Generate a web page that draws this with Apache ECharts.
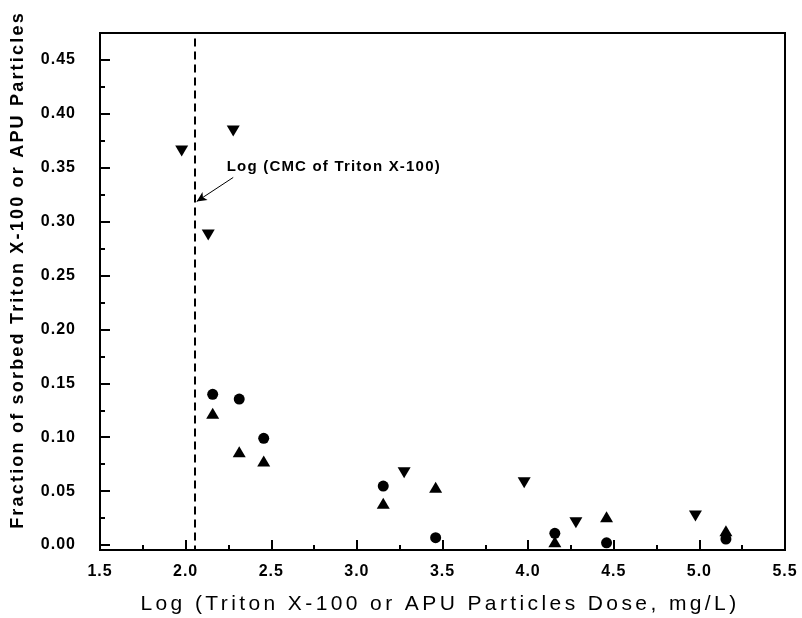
<!DOCTYPE html>
<html>
<head>
    <meta charset="utf-8">
    <title>sorbed fraction vs dose</title>
    <script type="text/javascript" src="https://cdn.jsdelivr.net/npm/echarts@6/dist/echarts.min.js"></script>
    <style>
        html, body { margin: 0; padding: 0; background: #fff; }
    </style>
</head>
<body>
<div id="main" style="width: 802px;height:618px;"></div>
<script type="text/javascript">
    // data: x = log dose, y = fraction sorbed
    var doseTri = [1.977, 2.278, 2.132, 3.276, 3.977, 4.279, 4.977];
    var fracDown = [0.3655, 0.384, 0.2876, 0.0671, 0.0578, 0.0207, 0.0269];

    var doseApu = [2.158, 2.313, 2.456, 3.154, 3.46, 4.156, 4.458, 5.155];
    var fracCircle = [0.1398, 0.1354, 0.099, 0.0547, 0.0068, 0.0109, 0.0021, 0.0056];
    var fracUp = [0.1222, 0.0866, 0.0779, 0.0387, 0.0535, 0.0031, 0.0263, 0.0133];

    var yMajor = [0, 0.05, 0.1, 0.15, 0.2, 0.25, 0.3, 0.35, 0.4, 0.45];
    var yMinor = [0.025, 0.075, 0.125, 0.175, 0.225, 0.275, 0.325, 0.375, 0.425];

    var cmcLog = 2.055;
    var cmcArrow = [[2.278, 0.341], [2.0645, 0.3187]];
    var cmcText = [2.24, 0.3505];

    function pairs(xs, ys) {
        return xs.map(function (x, i) { return [x, ys[i]]; });
    }

    // the original figure uses loosely tracked type; canvas has letterSpacing but zrender never sets it
    var TRACKING = { 15: '1.2px', 16: '1px', 18: '2.2px', 21: '3.4px' };
    var fontProp = Object.getOwnPropertyDescriptor(CanvasRenderingContext2D.prototype, 'font');
    Object.defineProperty(CanvasRenderingContext2D.prototype, 'font', {
        configurable: true,
        get: fontProp.get,
        set: function (v) {
            fontProp.set.call(this, v);
            var m = /(\d+)px/.exec(v);
            if ('letterSpacing' in this) this.letterSpacing = (m && TRACKING[m[1]]) || '0px';
        }
    });

    var FONT = 'Liberation Sans';
    var myChart = echarts.init(document.getElementById('main'));

    var option = {
        backgroundColor: '#fff',
        animation: false,
        textStyle: { fontFamily: FONT },
        grid: {
            left: 100, right: 17, top: 33, bottom: 68,
            show: true, borderColor: '#000', borderWidth: 2
        },
        xAxis: {
            type: 'value',
            min: 1.5, max: 5.5, interval: 0.5,
            axisLine: { show: true, onZero: false, lineStyle: { color: '#000', width: 2 } },
            axisTick: { show: true, inside: true, length: 10, lineStyle: { color: '#000', width: 2 } },
            minorTick: { show: true, splitNumber: 2, length: 5, lineStyle: { color: '#000', width: 2 } },
            splitLine: { show: false },
            axisLabel: {
                margin: 13, color: '#000', fontSize: 16, fontWeight: 'bold', fontFamily: FONT,
                formatter: function (v) { return v.toFixed(1); }
            }
        },
        yAxis: [{
            type: 'value',
            position: 'left',
            min: -0.0046, max: 0.475,
            axisLine: { show: true, onZero: false, lineStyle: { color: '#000', width: 2 } },
            axisTick: { show: true, inside: true, length: 10, customValues: yMajor, lineStyle: { color: '#000', width: 2 } },
            splitLine: { show: false },
            axisLabel: {
                margin: 24, color: '#000', fontSize: 16, fontWeight: 'bold', fontFamily: FONT,
                customValues: yMajor,
                formatter: function (v) { return v.toFixed(2); }
            }
        }, {
            type: 'value',
            position: 'left',
            min: -0.0046, max: 0.475,
            axisLine: { show: false },
            axisTick: { show: true, inside: true, length: 5, customValues: yMinor, lineStyle: { color: '#000', width: 2 } },
            splitLine: { show: false },
            axisLabel: { show: false }
        }],
        graphic: [{
            type: 'text',
            x: 440, y: 604,
            style: {
                text: 'Log (Triton X-100 or APU Particles Dose, mg/L)',
                font: '21px "' + FONT + '"',
                fill: '#000', align: 'center', verticalAlign: 'middle'
            }
        }, {
            type: 'text',
            x: 18, y: 270,
            rotation: Math.PI / 2,
            style: {
                text: 'Fraction of sorbed Triton X-100 or APU Particles',
                font: 'bold 18px "' + FONT + '"',
                fill: '#000', align: 'center', verticalAlign: 'middle'
            }
        }],
        series: [{
            name: 'down',
            type: 'scatter',
            symbol: 'triangle',
            symbolRotate: 180,
            symbolSize: [13, 11],
            itemStyle: { color: '#000', opacity: 1 },
            data: pairs(doseTri, fracDown),
            markLine: {
                silent: true,
                animation: false,
                label: { show: false },
                data: [
                    [{ coord: [cmcLog, 0.47], symbol: 'none', lineStyle: { type: [8, 5], width: 2, color: '#000' } },
                     { coord: [cmcLog, -0.0046], symbol: 'none' }],
                    [{ coord: cmcArrow[0], symbol: 'none', lineStyle: { type: 'solid', width: 1, color: '#000' } },
                     { coord: cmcArrow[1], symbol: 'arrow', symbolSize: [7, 10] }]
                ]
            },
            markPoint: {
                silent: true,
                animation: false,
                data: [{
                    coord: cmcText,
                    symbol: 'circle',
                    symbolSize: 0,
                    label: {
                        show: true,
                        position: [0, 0],
                        align: 'left',
                        verticalAlign: 'middle',
                        color: '#000',
                        fontSize: 15,
                        fontWeight: 'bold',
                        fontFamily: FONT,
                        formatter: 'Log (CMC of Triton X-100)'
                    }
                }]
            }
        }, {
            name: 'up',
            type: 'scatter',
            symbol: 'triangle',
            symbolSize: [13, 11],
            itemStyle: { color: '#000', opacity: 1 },
            data: pairs(doseApu, fracUp)
        }, {
            name: 'circle',
            type: 'scatter',
            symbol: 'circle',
            symbolSize: 11,
            itemStyle: { color: '#000', opacity: 1 },
            data: pairs(doseApu, fracCircle)
        }]
    };

    myChart.setOption(option);
</script>
</body>
</html>
